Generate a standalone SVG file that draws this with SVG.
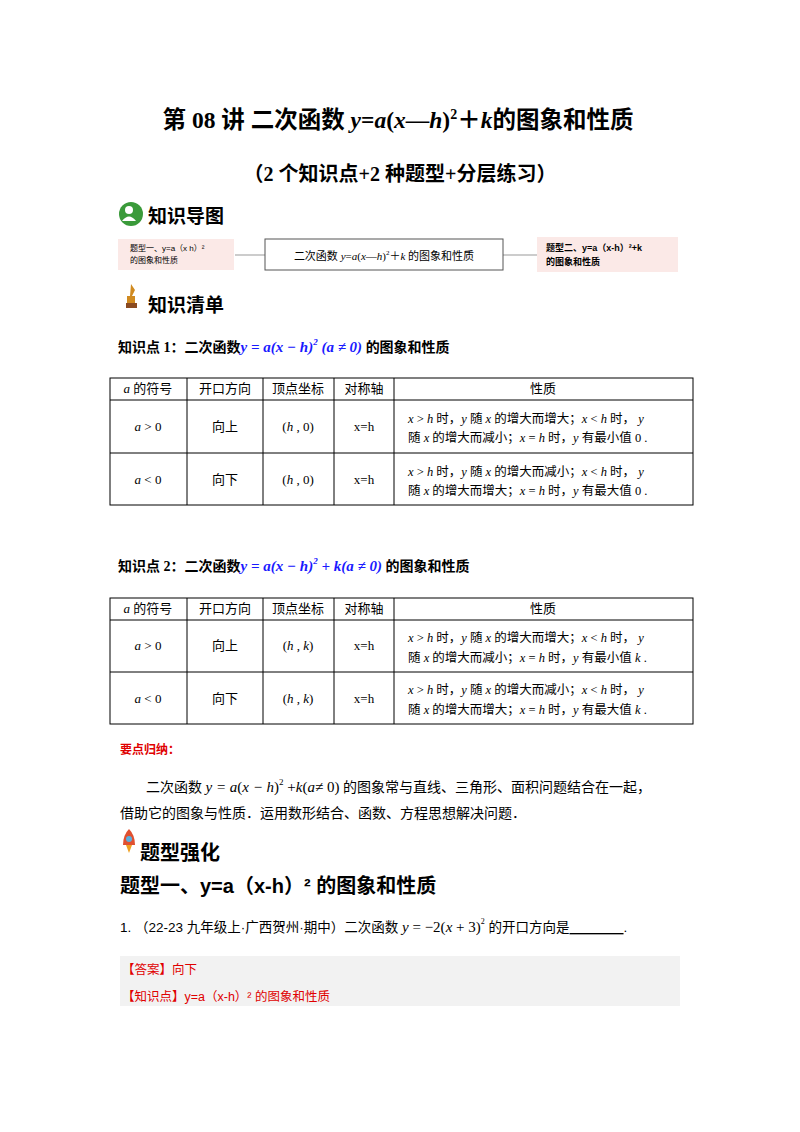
<svg xmlns="http://www.w3.org/2000/svg" width="800" height="1132" viewBox="0 0 800 1132">
<style>
text{font-family:"Liberation Serif","Noto Sans CJK SC",serif;fill:#000}
.b{font-weight:bold}
.s{font-family:"Liberation Sans","Noto Sans CJK SC",sans-serif}
.m{font-style:italic}
.c{font-size:13px;text-anchor:middle}
.p{font-size:12.5px}
.r{fill:#e00000}
.bl{fill:#1a1aff;font-style:italic;font-weight:bold}
line.t{stroke:#000;stroke-width:1}
</style>
<rect width="800" height="1132" fill="#fff"/>
<text x="398" y="128" class="b" font-size="23.5" text-anchor="middle">第 08 讲  二次函数 <tspan class="m">y</tspan>=<tspan class="m">a</tspan>(<tspan class="m">x</tspan>—<tspan class="m">h</tspan>)<tspan font-size="14" dy="-9">2</tspan><tspan dy="9">＋</tspan><tspan class="m">k</tspan>的图象和性质</text>
<text x="400" y="181" class="b" font-size="20" text-anchor="middle">（2 个知识点+2 种题型+分层练习）</text>
<g id="icon1"><circle cx="131" cy="214" r="12" fill="#3a9a3a"/><circle cx="129" cy="210" r="4" fill="#fff"/><path d="M122 221 q7-9 14 0z" fill="#fff"/></g>
<text x="148" y="223" class="b s" font-size="19">知识导图</text>
<g id="connectors"><line x1="235" y1="255" x2="265" y2="255" stroke="#999"/><line x1="503" y1="255" x2="537" y2="255" stroke="#999"/></g>
<g id="n1"><rect x="118" y="239" width="116" height="31" fill="#fbe9e7"/><text x="130" y="251" class="s" font-size="8">题型一、y=a（x h）²</text><text x="130" y="263" class="s" font-size="8">的图象和性质</text></g>
<g id="n2"><rect x="265" y="239" width="238" height="31" fill="#fff" stroke="#555"/><text x="384" y="260" font-size="11" text-anchor="middle">二次函数 <tspan class="m">y</tspan>=<tspan class="m">a</tspan>(<tspan class="m">x</tspan>—<tspan class="m">h</tspan>)<tspan font-size="7" dy="-5">2</tspan><tspan dy="5">＋</tspan><tspan class="m">k</tspan> 的图象和性质</text></g>
<g id="n3"><rect x="537" y="237" width="141" height="35" fill="#fbe9e7"/><text x="546" y="251" class="s b" font-size="9">题型二、y=a（x-h）²+k</text><text x="546" y="265" class="s b" font-size="9">的图象和性质</text></g>
<g id="icon2"><path d="M131 284 l4 6 -3 6 h3 v7 h-8 v-7 h3 z" fill="#d08a20"/><rect x="126" y="303" width="11" height="5" fill="#8a4a20"/></g>
<text x="148" y="312" class="b s" font-size="19">知识清单</text>
<text x="118" y="352" class="b" font-size="14">知识点 1：二次函数<tspan class="bl" font-size="15">y = a(x − h)<tspan font-size="9" dy="-7">2</tspan><tspan dy="7"> (a ≠ 0)</tspan></tspan> 的图象和性质</text>
<g id="table1">
<rect x="110" y="378" width="583" height="127" fill="none" stroke="#000"/>
<line class="t" x1="110" y1="400" x2="693" y2="400"/><line class="t" x1="110" y1="453" x2="693" y2="453"/>
<line class="t" x1="187" y1="378" x2="187" y2="505"/><line class="t" x1="263" y1="378" x2="263" y2="505"/><line class="t" x1="334" y1="378" x2="334" y2="505"/><line class="t" x1="394" y1="378" x2="394" y2="505"/>
<text x="148" y="393" class="c"><tspan class="m">a</tspan> 的符号</text><text x="225" y="393" class="c">开口方向</text><text x="298" y="393" class="c">顶点坐标</text><text x="364" y="393" class="c">对称轴</text><text x="543" y="393" class="c">性质</text>
<text x="148" y="431" class="c"><tspan class="m">a</tspan> &gt; 0</text><text x="225" y="431" class="c">向上</text><text x="298" y="431" class="c" font-size="15">(<tspan class="m" font-size="13">h</tspan> , 0)</text><text x="364" y="431" class="c">x=h</text>
<text x="408" y="423" class="p"><tspan class="m">x</tspan> &gt; <tspan class="m">h</tspan> 时，<tspan class="m">y</tspan> 随 <tspan class="m">x</tspan> 的增大而增大；<tspan class="m">x</tspan> &lt; <tspan class="m">h</tspan> 时，  <tspan class="m">y</tspan></text>
<text x="408" y="442" class="p">随 <tspan class="m">x</tspan> 的增大而减小；<tspan class="m">x</tspan> = <tspan class="m">h</tspan> 时，<tspan class="m">y</tspan> 有最小值 0 .</text>
<text x="148" y="484" class="c"><tspan class="m">a</tspan> &lt; 0</text><text x="225" y="484" class="c">向下</text><text x="298" y="484" class="c" font-size="15">(<tspan class="m" font-size="13">h</tspan> , 0)</text><text x="364" y="484" class="c">x=h</text>
<text x="408" y="476" class="p"><tspan class="m">x</tspan> &gt; <tspan class="m">h</tspan> 时，<tspan class="m">y</tspan> 随 <tspan class="m">x</tspan> 的增大而减小；<tspan class="m">x</tspan> &lt; <tspan class="m">h</tspan> 时，  <tspan class="m">y</tspan></text>
<text x="408" y="495" class="p">随 <tspan class="m">x</tspan> 的增大而增大；<tspan class="m">x</tspan> = <tspan class="m">h</tspan> 时，<tspan class="m">y</tspan> 有最大值 0 .</text>
</g>
<text x="118" y="571" class="b" font-size="14">知识点 2：二次函数<tspan class="bl" font-size="15">y = a(x − h)<tspan font-size="9" dy="-7">2</tspan><tspan dy="7"> + k(a ≠ 0)</tspan></tspan> 的图象和性质</text>
<g id="table2">
<rect x="110" y="598" width="583" height="126" fill="none" stroke="#000"/>
<line class="t" x1="110" y1="620" x2="693" y2="620"/><line class="t" x1="110" y1="672" x2="693" y2="672"/>
<line class="t" x1="187" y1="598" x2="187" y2="724"/><line class="t" x1="263" y1="598" x2="263" y2="724"/><line class="t" x1="334" y1="598" x2="334" y2="724"/><line class="t" x1="394" y1="598" x2="394" y2="724"/>
<text x="148" y="613" class="c"><tspan class="m">a</tspan> 的符号</text><text x="225" y="613" class="c">开口方向</text><text x="298" y="613" class="c">顶点坐标</text><text x="364" y="613" class="c">对称轴</text><text x="543" y="613" class="c">性质</text>
<text x="148" y="650" class="c"><tspan class="m">a</tspan> &gt; 0</text><text x="225" y="650" class="c">向上</text><text x="298" y="650" class="c" font-size="15">(<tspan class="m" font-size="13">h</tspan> , <tspan class="m" font-size="13">k</tspan>)</text><text x="364" y="650" class="c">x=h</text>
<text x="408" y="642" class="p"><tspan class="m">x</tspan> &gt; <tspan class="m">h</tspan> 时，<tspan class="m">y</tspan> 随 <tspan class="m">x</tspan> 的增大而增大；<tspan class="m">x</tspan> &lt; <tspan class="m">h</tspan> 时，  <tspan class="m">y</tspan></text>
<text x="408" y="662" class="p">随 <tspan class="m">x</tspan> 的增大而减小；<tspan class="m">x</tspan> = <tspan class="m">h</tspan> 时，<tspan class="m">y</tspan> 有最小值 <tspan class="m">k</tspan> .</text>
<text x="148" y="703" class="c"><tspan class="m">a</tspan> &lt; 0</text><text x="225" y="703" class="c">向下</text><text x="298" y="703" class="c" font-size="15">(<tspan class="m" font-size="13">h</tspan> , <tspan class="m" font-size="13">k</tspan>)</text><text x="364" y="703" class="c">x=h</text>
<text x="408" y="694" class="p"><tspan class="m">x</tspan> &gt; <tspan class="m">h</tspan> 时，<tspan class="m">y</tspan> 随 <tspan class="m">x</tspan> 的增大而减小；<tspan class="m">x</tspan> &lt; <tspan class="m">h</tspan> 时，  <tspan class="m">y</tspan></text>
<text x="408" y="714" class="p">随 <tspan class="m">x</tspan> 的增大而增大；<tspan class="m">x</tspan> = <tspan class="m">h</tspan> 时，<tspan class="m">y</tspan> 有最大值 <tspan class="m">k</tspan> .</text>
</g>
<text x="120" y="754" class="b r s" font-size="12">要点归纳：</text>
<text x="146" y="792" font-size="14">二次函数 <tspan class="m" font-size="15">y = a</tspan><tspan font-size="15">(<tspan class="m">x − h</tspan>)</tspan><tspan font-size="9" dy="-7">2</tspan><tspan dy="7" font-size="15"> +<tspan class="m">k</tspan>(<tspan class="m">a</tspan>≠ 0)</tspan> 的图象常与直线、三角形、面积问题结合在一起，</text>
<text x="120" y="818" font-size="14">借助它的图象与性质．运用数形结合、函数、方程思想解决问题．</text>
<g id="icon3"><path d="M129 829 q6 6 6 16 h-12 q0-10 6-16z" fill="#e05030"/><circle cx="129" cy="839" r="3" fill="#5ab0e0"/><path d="M126 845 h6 l-3 8z" fill="#f0a020"/></g>
<text x="140" y="860" class="b s" font-size="20">题型强化</text>
<text x="120" y="893" class="b s" font-size="20">题型一、y=a（x-h）² 的图象和性质</text>
<text x="120" y="932" class="s" font-size="13.5">1.    （22-23 九年级上·广西贺州·期中）二次函数 <tspan font-family="Liberation Serif" font-size="15"><tspan class="m">y</tspan> = −2(<tspan class="m">x</tspan> + 3)<tspan font-size="8" dy="-8">2</tspan></tspan><tspan dy="8"> 的开口方向是</tspan><tspan text-decoration="underline">　　　　</tspan>.</text>
<rect x="120" y="956" width="560" height="50" fill="#f2f2f2"/>
<text x="122" y="974" class="r s" font-size="12.5">【答案】向下</text>
<text x="122" y="1001" class="r s" font-size="12.5">【知识点】y=a（x-h）² 的图象和性质</text>
</svg>
